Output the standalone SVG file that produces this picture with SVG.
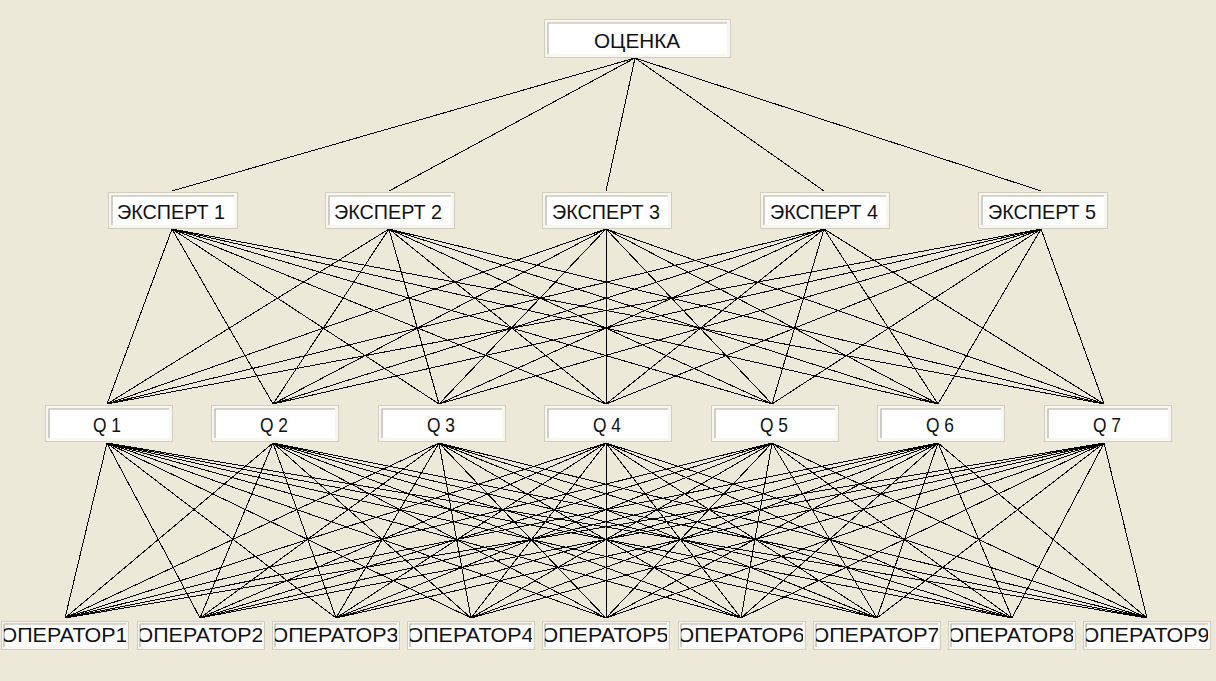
<svg xmlns="http://www.w3.org/2000/svg" width="1216" height="681" viewBox="0 0 1216 681">
  <style>
    .bg { fill: #ece9d8; }
    .frame { fill: #f7f6f1; stroke: #d2cebf; stroke-width: 1; }
    .well { fill: #ffffff; }
    .bevel { fill: none; stroke: #b4b0a0; stroke-width: 1.2; }
    .lbl { font-family: "Liberation Sans", Arial, sans-serif; font-size: 21px; fill: #111; text-anchor: middle; }
    .wires path { fill: none; stroke: #000; stroke-width: 1; shape-rendering: crispEdges; }
  </style>
  <defs>
    <clipPath id="clip-op1"><rect x="4" y="624" width="122" height="23"/></clipPath>
    <clipPath id="clip-op2"><rect x="140" y="624" width="122" height="23"/></clipPath>
    <clipPath id="clip-op3"><rect x="275" y="624" width="122" height="23"/></clipPath>
    <clipPath id="clip-op4"><rect x="410" y="624" width="122" height="23"/></clipPath>
    <clipPath id="clip-op5"><rect x="545" y="624" width="122" height="23"/></clipPath>
    <clipPath id="clip-op6"><rect x="681" y="624" width="122" height="23"/></clipPath>
    <clipPath id="clip-op7"><rect x="816" y="624" width="122" height="23"/></clipPath>
    <clipPath id="clip-op8"><rect x="951" y="624" width="122" height="23"/></clipPath>
    <clipPath id="clip-op9"><rect x="1086" y="624" width="122" height="23"/></clipPath>
  </defs>

  <rect class="bg" x="0" y="0" width="1216" height="681"/>

  <!-- connectors between levels -->
  <g id="connectors" class="wires">
    <path id="root-experts" d="M635 58L172 191M635 58L389 191M635 58L606 191M635 58L824 191M635 58L1041 191"/>

    <path id="e1-q" d="M172 229L107 404M172 229L273 404M172 229L439 404M172 229L606 404M172 229L772 404M172 229L938 404M172 229L1104 404"/>
    <path id="e2-q" d="M389 229L107 404M389 229L273 404M389 229L439 404M389 229L606 404M389 229L772 404M389 229L938 404M389 229L1104 404"/>
    <path id="e3-q" d="M606 229L107 404M606 229L273 404M606 229L439 404M606 229L606 404M606 229L772 404M606 229L938 404M606 229L1104 404"/>
    <path id="e4-q" d="M824 229L107 404M824 229L273 404M824 229L439 404M824 229L606 404M824 229L772 404M824 229L938 404M824 229L1104 404"/>
    <path id="e5-q" d="M1041 229L107 404M1041 229L273 404M1041 229L439 404M1041 229L606 404M1041 229L772 404M1041 229L938 404M1041 229L1104 404"/>

    <path id="q1-op" d="M107 443L65 618M107 443L200 618M107 443L336 618M107 443L471 618M107 443L606 618M107 443L741 618M107 443L877 618M107 443L1012 618M107 443L1147 618"/>
    <path id="q2-op" d="M273 443L65 618M273 443L200 618M273 443L336 618M273 443L471 618M273 443L606 618M273 443L741 618M273 443L877 618M273 443L1012 618M273 443L1147 618"/>
    <path id="q3-op" d="M439 443L65 618M439 443L200 618M439 443L336 618M439 443L471 618M439 443L606 618M439 443L741 618M439 443L877 618M439 443L1012 618M439 443L1147 618"/>
    <path id="q4-op" d="M606 443L65 618M606 443L200 618M606 443L336 618M606 443L471 618M606 443L606 618M606 443L741 618M606 443L877 618M606 443L1012 618M606 443L1147 618"/>
    <path id="q5-op" d="M772 443L65 618M772 443L200 618M772 443L336 618M772 443L471 618M772 443L606 618M772 443L741 618M772 443L877 618M772 443L1012 618M772 443L1147 618"/>
    <path id="q6-op" d="M938 443L65 618M938 443L200 618M938 443L336 618M938 443L471 618M938 443L606 618M938 443L741 618M938 443L877 618M938 443L1012 618M938 443L1147 618"/>
    <path id="q7-op" d="M1104 443L65 618M1104 443L200 618M1104 443L336 618M1104 443L471 618M1104 443L606 618M1104 443L741 618M1104 443L877 618M1104 443L1012 618M1104 443L1147 618"/>
  </g>

  <!-- root -->
  <g id="root">
    <rect class="frame" x="544.5" y="19.5" width="186" height="38"/>
    <rect class="well" x="548" y="23" width="179" height="31"/>
    <path class="bevel" d="M548 54V23H727"/>
    <text class="lbl" x="637" y="48" textLength="86" lengthAdjust="spacingAndGlyphs">ОЦЕНКА</text>
  </g>

  <!-- experts -->
  <g id="expert1">
    <rect class="frame" x="108.5" y="192.5" width="129" height="36"/>
    <rect class="well" x="112" y="196" width="122" height="29"/>
    <path class="bevel" d="M112 225V196H234"/>
    <text class="lbl" x="171" y="219" textLength="108" lengthAdjust="spacingAndGlyphs">ЭКСПЕРТ 1</text>
  </g>
  <g id="expert2">
    <rect class="frame" x="325.5" y="192.5" width="129" height="36"/>
    <rect class="well" x="329" y="196" width="122" height="29"/>
    <path class="bevel" d="M329 225V196H451"/>
    <text class="lbl" x="388" y="219" textLength="108" lengthAdjust="spacingAndGlyphs">ЭКСПЕРТ 2</text>
  </g>
  <g id="expert3">
    <rect class="frame" x="542.5" y="192.5" width="129" height="36"/>
    <rect class="well" x="546" y="196" width="122" height="29"/>
    <path class="bevel" d="M546 225V196H668"/>
    <text class="lbl" x="606" y="219" textLength="108" lengthAdjust="spacingAndGlyphs">ЭКСПЕРТ 3</text>
  </g>
  <g id="expert4">
    <rect class="frame" x="760.5" y="192.5" width="129" height="36"/>
    <rect class="well" x="764" y="196" width="122" height="29"/>
    <path class="bevel" d="M764 225V196H886"/>
    <text class="lbl" x="824" y="219" textLength="108" lengthAdjust="spacingAndGlyphs">ЭКСПЕРТ 4</text>
  </g>
  <g id="expert5">
    <rect class="frame" x="978.5" y="192.5" width="129" height="36"/>
    <rect class="well" x="982" y="196" width="122" height="29"/>
    <path class="bevel" d="M982 225V196H1104"/>
    <text class="lbl" x="1042" y="219" textLength="108" lengthAdjust="spacingAndGlyphs">ЭКСПЕРТ 5</text>
  </g>

  <!-- criteria -->
  <g id="q1">
    <rect class="frame" x="45.5" y="405.5" width="127" height="36"/>
    <rect class="well" x="49" y="409" width="120" height="29"/>
    <path class="bevel" d="M49 438V409H169"/>
    <text class="lbl" x="107" y="432" textLength="28" lengthAdjust="spacingAndGlyphs">Q 1</text>
  </g>
  <g id="q2">
    <rect class="frame" x="211.5" y="405.5" width="127" height="36"/>
    <rect class="well" x="215" y="409" width="120" height="29"/>
    <path class="bevel" d="M215 438V409H335"/>
    <text class="lbl" x="274" y="432" textLength="28" lengthAdjust="spacingAndGlyphs">Q 2</text>
  </g>
  <g id="q3">
    <rect class="frame" x="378.5" y="405.5" width="127" height="36"/>
    <rect class="well" x="382" y="409" width="120" height="29"/>
    <path class="bevel" d="M382 438V409H502"/>
    <text class="lbl" x="441" y="432" textLength="28" lengthAdjust="spacingAndGlyphs">Q 3</text>
  </g>
  <g id="q4">
    <rect class="frame" x="544.5" y="405.5" width="127" height="36"/>
    <rect class="well" x="548" y="409" width="120" height="29"/>
    <path class="bevel" d="M548 438V409H668"/>
    <text class="lbl" x="607" y="432" textLength="28" lengthAdjust="spacingAndGlyphs">Q 4</text>
  </g>
  <g id="q5">
    <rect class="frame" x="711.5" y="405.5" width="127" height="36"/>
    <rect class="well" x="715" y="409" width="120" height="29"/>
    <path class="bevel" d="M715 438V409H835"/>
    <text class="lbl" x="774" y="432" textLength="28" lengthAdjust="spacingAndGlyphs">Q 5</text>
  </g>
  <g id="q6">
    <rect class="frame" x="877.5" y="405.5" width="127" height="36"/>
    <rect class="well" x="881" y="409" width="120" height="29"/>
    <path class="bevel" d="M881 438V409H1001"/>
    <text class="lbl" x="940" y="432" textLength="28" lengthAdjust="spacingAndGlyphs">Q 6</text>
  </g>
  <g id="q7">
    <rect class="frame" x="1044.5" y="405.5" width="127" height="36"/>
    <rect class="well" x="1048" y="409" width="120" height="29"/>
    <path class="bevel" d="M1048 438V409H1168"/>
    <text class="lbl" x="1107" y="432" textLength="28" lengthAdjust="spacingAndGlyphs">Q 7</text>
  </g>

  <!-- operators -->
  <g id="op1">
    <rect class="frame" x="1.5" y="621.5" width="127" height="28"/>
    <rect class="well" x="4" y="624" width="122" height="23"/>
    <path class="bevel" d="M4 647V624H126"/>
    <text class="lbl" x="64" y="642" textLength="127" lengthAdjust="spacingAndGlyphs" clip-path="url(#clip-op1)">ОПЕРАТОР1</text>
  </g>
  <g id="op2">
    <rect class="frame" x="137.5" y="621.5" width="127" height="28"/>
    <rect class="well" x="140" y="624" width="122" height="23"/>
    <path class="bevel" d="M140 647V624H262"/>
    <text class="lbl" x="200" y="642" textLength="127" lengthAdjust="spacingAndGlyphs" clip-path="url(#clip-op2)">ОПЕРАТОР2</text>
  </g>
  <g id="op3">
    <rect class="frame" x="272.5" y="621.5" width="127" height="28"/>
    <rect class="well" x="275" y="624" width="122" height="23"/>
    <path class="bevel" d="M275 647V624H397"/>
    <text class="lbl" x="335" y="642" textLength="127" lengthAdjust="spacingAndGlyphs" clip-path="url(#clip-op3)">ОПЕРАТОР3</text>
  </g>
  <g id="op4">
    <rect class="frame" x="407.5" y="621.5" width="127" height="28"/>
    <rect class="well" x="410" y="624" width="122" height="23"/>
    <path class="bevel" d="M410 647V624H532"/>
    <text class="lbl" x="470" y="642" textLength="127" lengthAdjust="spacingAndGlyphs" clip-path="url(#clip-op4)">ОПЕРАТОР4</text>
  </g>
  <g id="op5">
    <rect class="frame" x="542.5" y="621.5" width="127" height="28"/>
    <rect class="well" x="545" y="624" width="122" height="23"/>
    <path class="bevel" d="M545 647V624H667"/>
    <text class="lbl" x="605" y="642" textLength="127" lengthAdjust="spacingAndGlyphs" clip-path="url(#clip-op5)">ОПЕРАТОР5</text>
  </g>
  <g id="op6">
    <rect class="frame" x="678.5" y="621.5" width="127" height="28"/>
    <rect class="well" x="681" y="624" width="122" height="23"/>
    <path class="bevel" d="M681 647V624H803"/>
    <text class="lbl" x="741" y="642" textLength="127" lengthAdjust="spacingAndGlyphs" clip-path="url(#clip-op6)">ОПЕРАТОР6</text>
  </g>
  <g id="op7">
    <rect class="frame" x="813.5" y="621.5" width="127" height="28"/>
    <rect class="well" x="816" y="624" width="122" height="23"/>
    <path class="bevel" d="M816 647V624H938"/>
    <text class="lbl" x="876" y="642" textLength="127" lengthAdjust="spacingAndGlyphs" clip-path="url(#clip-op7)">ОПЕРАТОР7</text>
  </g>
  <g id="op8">
    <rect class="frame" x="948.5" y="621.5" width="127" height="28"/>
    <rect class="well" x="951" y="624" width="122" height="23"/>
    <path class="bevel" d="M951 647V624H1073"/>
    <text class="lbl" x="1011" y="642" textLength="127" lengthAdjust="spacingAndGlyphs" clip-path="url(#clip-op8)">ОПЕРАТОР8</text>
  </g>
  <g id="op9">
    <rect class="frame" x="1083.5" y="621.5" width="127" height="28"/>
    <rect class="well" x="1086" y="624" width="122" height="23"/>
    <path class="bevel" d="M1086 647V624H1208"/>
    <text class="lbl" x="1146" y="642" textLength="127" lengthAdjust="spacingAndGlyphs" clip-path="url(#clip-op9)">ОПЕРАТОР9</text>
  </g>
</svg>
